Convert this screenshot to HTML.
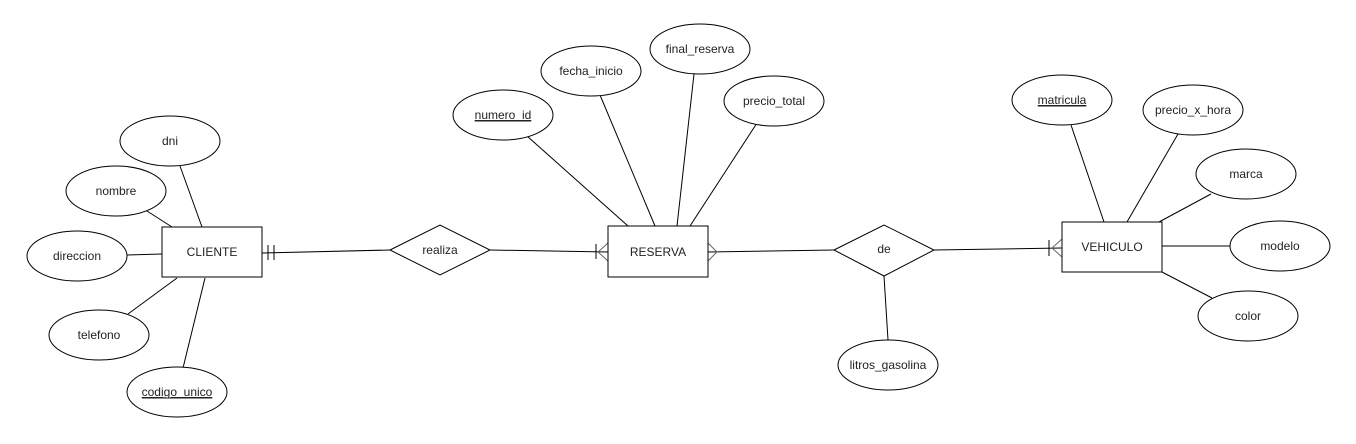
<!DOCTYPE html>
<html><head><meta charset="utf-8"><style>
html,body{margin:0;padding:0;background:#fff;width:1356px;height:444px;overflow:hidden}
text{font-family:"Liberation Sans",Arial,sans-serif;font-size:12px;fill:#222}
</style></head><body>
<svg width="1356" height="444" viewBox="0 0 1356 444" xmlns="http://www.w3.org/2000/svg">
<g stroke="#000" stroke-width="1" fill="none">
<!-- cliente lines -->
<line x1="180" y1="166" x2="202" y2="227"/>
<line x1="147" y1="211" x2="172" y2="227"/>
<line x1="127" y1="255" x2="162" y2="254"/>
<line x1="128" y1="314" x2="177" y2="278"/>
<line x1="183" y1="368" x2="205" y2="278"/>
<!-- reserva lines -->
<line x1="527" y1="136" x2="628" y2="226"/>
<line x1="600" y1="95" x2="655" y2="226"/>
<line x1="694" y1="74" x2="677" y2="226"/>
<line x1="757" y1="123" x2="690" y2="226"/>
<line x1="884" y1="276" x2="888" y2="340"/>
<!-- vehiculo lines -->
<line x1="1071" y1="125" x2="1104" y2="222"/>
<line x1="1178" y1="134" x2="1127" y2="222"/>
<line x1="1211" y1="194" x2="1159" y2="222"/>
<line x1="1162" y1="246" x2="1230" y2="246"/>
<line x1="1162" y1="272" x2="1212" y2="298"/>
<!-- relationships -->
<line x1="262" y1="253" x2="390" y2="250"/>
<line x1="268" y1="245" x2="268" y2="260"/>
<line x1="274" y1="245" x2="274" y2="260"/>
<line x1="490" y1="250" x2="608" y2="252"/>
<line x1="596" y1="244" x2="596" y2="259"/>
<polyline points="608,243 598,252 608,261" stroke="#666"/>
<line x1="708" y1="252" x2="834" y2="250"/>
<polyline points="708,243 717,252 708,261" stroke="#666"/>
<line x1="934" y1="250" x2="1062" y2="248"/>
<line x1="1049" y1="240" x2="1049" y2="256"/>
<polyline points="1062,239 1052,248 1062,257" stroke="#666"/>
<!-- entities -->
<rect x="162" y="227" width="100" height="50" fill="#fff"/>
<rect x="608" y="226" width="100" height="51" fill="#fff"/>
<rect x="1062" y="222" width="100" height="50" fill="#fff"/>
<polygon points="390,250 440,225 490,250 440,275" fill="#fff"/>
<polygon points="834,250 884,225 934,250 884,276" fill="#fff"/>
<!-- attributes -->
<ellipse cx="170" cy="141" rx="50" ry="25" fill="#fff"/>
<ellipse cx="116" cy="191" rx="50" ry="25" fill="#fff"/>
<ellipse cx="77" cy="256" rx="50" ry="25" fill="#fff"/>
<ellipse cx="99" cy="335" rx="50" ry="25" fill="#fff"/>
<ellipse cx="177" cy="392" rx="50" ry="25" fill="#fff"/>
<ellipse cx="503" cy="115" rx="50" ry="25" fill="#fff"/>
<ellipse cx="591" cy="71" rx="50" ry="25" fill="#fff"/>
<ellipse cx="700" cy="49" rx="50" ry="25" fill="#fff"/>
<ellipse cx="774" cy="101" rx="50" ry="25" fill="#fff"/>
<ellipse cx="888" cy="365" rx="50" ry="25" fill="#fff"/>
<ellipse cx="1062" cy="100" rx="50" ry="25" fill="#fff"/>
<ellipse cx="1193" cy="110" rx="50" ry="25" fill="#fff"/>
<ellipse cx="1246" cy="174" rx="50" ry="25" fill="#fff"/>
<ellipse cx="1280" cy="246" rx="50" ry="25" fill="#fff"/>
<ellipse cx="1248" cy="316" rx="50" ry="25" fill="#fff"/>
</g>
<g text-anchor="middle">
<text x="212" y="256">CLIENTE</text>
<text x="658" y="256">RESERVA</text>
<text x="1112" y="251">VEHICULO</text>
<text x="440" y="254">realiza</text>
<text x="884" y="253">de</text>
<text x="170" y="145">dni</text>
<text x="116" y="195">nombre</text>
<text x="77" y="260">direccion</text>
<text x="99" y="339">telefono</text>
<text x="177" y="396" text-decoration="underline">codigo_unico</text>
<text x="503" y="119" text-decoration="underline">numero_id</text>
<text x="591" y="75">fecha_inicio</text>
<text x="700" y="53">final_reserva</text>
<text x="774" y="105">precio_total</text>
<text x="888" y="369">litros_gasolina</text>
<text x="1062" y="104" text-decoration="underline">matricula</text>
<text x="1193" y="114">precio_x_hora</text>
<text x="1246" y="178">marca</text>
<text x="1280" y="250">modelo</text>
<text x="1248" y="320">color</text>
</g>
<g stroke="#222" stroke-width="1">
<line x1="142" y1="398" x2="212" y2="398"/>
<line x1="475" y1="121" x2="531" y2="121"/>
<line x1="1038" y1="106" x2="1086" y2="106"/>
</g>
</svg>
</body></html>
